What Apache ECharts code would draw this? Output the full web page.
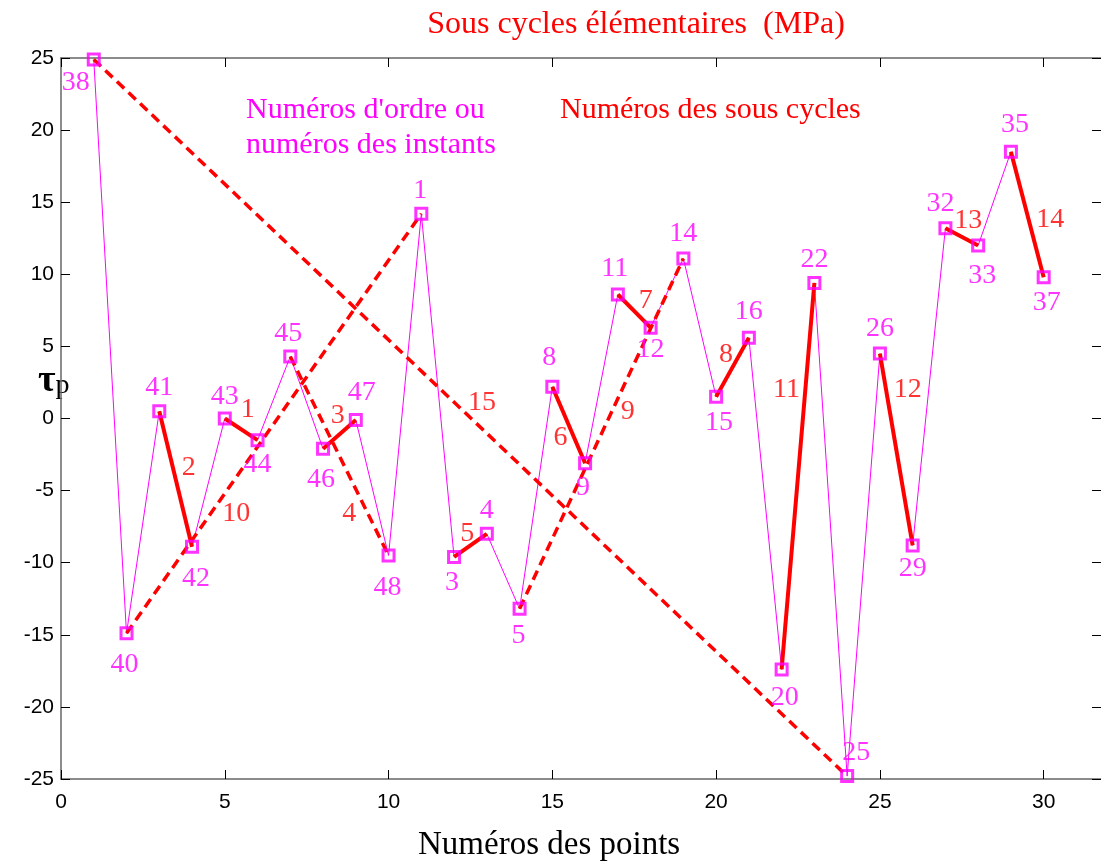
<!DOCTYPE html>
<html><head><meta charset="utf-8">
<script src="https://cdn.jsdelivr.net/npm/echarts@6/dist/echarts.min.js"></script>
<style>html,body{margin:0;padding:0;background:#fff}#c{width:1101px;height:864px}</style>
</head><body><div id="c"></div>
<script>
// ---- data ----
const pointNo = [1,2,3,4,5,6,7,8,9,10,11,12,13,14,15,16,17,18,19,20,21,22,23,24,25,26,27,28,29,30];
const tau = [24.9,-14.9,0.5,-8.9,0.0,-1.5,4.3,-2.1,-0.1,-9.5,14.2,-9.6,-8.0,-13.2,2.2,-3.1,8.6,6.3,11.1,1.5,5.6,-17.4,9.4,-24.8,4.5,-8.8,13.2,12.0,18.5,9.8];
const orderNo = [38,40,41,42,43,44,45,46,47,48,1,3,4,5,8,9,11,12,14,15,16,20,22,25,26,29,32,33,35,37];
const cycleNo = [1,2,3,4,5,6,7,8,9,10,11,12,13,14,15];
const cycleFrom = [5,3,8,7,12,15,17,20,14,2,22,25,27,29,1];
const cycleTo = [6,4,9,10,13,16,18,21,19,11,23,26,28,30,24];
const cycleDashed = [false,false,false,true,false,false,false,false,true,true,false,false,false,false,true];
const cycleLabelX = [5.7,3.9,8.45,8.8,12.4,15.25,17.85,20.3,17.3,5.35,22.15,25.85,27.7,30.2,12.85];
const cycleLabelY = [0.6,-3.4,0.2,-6.6,-8.0,-1.3,8.2,4.4,0.5,-6.6,2.0,2.0,13.7,13.8,1.1];
const xTicks = [0,5,10,15,20,25,30];
const yTicks = [-25,-20,-15,-10,-5,0,5,10,15,20,25];

// ---- layout (label offsets in px) ----
const orderLabelOffset = [[-18,23],[-2,31],[0,-24],[4,32],[0,-22],[0,25],[-2,-23],[-2,31],[6,-27],[-1,32],
  [-1,-23],[-2,26],[0,-23],[-1,27],[-3,-29],[-2,24],[-3,-26],[0,22],[0,-25],[3,26],
  [0,-26],[3,28],[0,-23],[9,-23],[0,-25],[0,23],[-5,-25],[4,30],[4,-27],[3,25]];

const MAG = '#ff00ff', RED = '#ff0000';
const serif = '"Liberation Serif","Times New Roman",serif';
const sans = '"Liberation Sans",Arial,sans-serif';

const series = [];
series.push({
  type:'line', data: pointNo.map((x,i)=>[x,tau[i]]), showSymbol:false, symbol:'none',
  lineStyle:{color:MAG, width:1}, z:2, animation:false
});
cycleNo.forEach((c,k)=>{
  const a = cycleFrom[k]-1, b = cycleTo[k]-1;
  series.push({
    type:'line', data:[[pointNo[a],tau[a]],[pointNo[b],tau[b]]], symbol:'none',
    lineStyle:{color:RED, width: cycleDashed[k]?3.5:4, type: cycleDashed[k]?[10,6]:'solid', cap:'butt'},
    z:3, animation:false
  });
});
series.push({
  type:'scatter', symbol:'rect', symbolSize:11, z:5, animation:false,
  itemStyle:{color:'rgba(255,255,255,0)', borderColor:MAG, borderWidth:3},
  data: pointNo.map((x,i)=>({value:[x,tau[i]], label:{show:true, position:'inside', offset:orderLabelOffset[i], formatter:String(orderNo[i])}})),
  label:{color:MAG, fontFamily:serif, fontSize:28}
});
series.push({
  type:'scatter', symbolSize:0, z:6, animation:false, silent:true,
  data: cycleNo.map((c,k)=>({value:[cycleLabelX[k],cycleLabelY[k]], label:{formatter:String(c)}})),
  label:{show:true, position:'inside', color:RED, fontFamily:serif, fontSize:28}
});

const axisLineStyle = {color:'#666', width:1.5};
const tick = {show:true, inside:true, length:9, lineStyle:{color:'#000', width:1}};
const chart = echarts.init(document.getElementById('c'));
chart.setOption({
  animation:false,
  title:{text:'Sous cycles élémentaires  (MPa)', left:631, top:4, textAlign:'center',
    textStyle:{color:RED, fontFamily:serif, fontSize:32, fontWeight:'normal'}},
  grid:{left:61, top:58, bottom:85, right:0},
  xAxis:[
    {type:'value', min:0, max:31.75, interval:5, position:'bottom',
      axisLine:{onZero:false, lineStyle:axisLineStyle}, axisTick:tick,
      axisLabel:{color:'#000', fontFamily:sans, fontSize:21, margin:13, showMaxLabel:false,
        formatter:v=>xTicks.includes(v)?String(v):''},
      splitLine:{show:false}},
    {type:'value', min:0, max:31.75, interval:5, position:'top',
      axisLine:{onZero:false, lineStyle:axisLineStyle}, axisTick:tick,
      axisLabel:{show:false}, splitLine:{show:false}}
  ],
  yAxis:[
    {type:'value', min:-25, max:25, interval:5, position:'left',
      axisLine:{show:true, onZero:false, lineStyle:axisLineStyle}, axisTick:tick,
      axisLabel:{color:'#000', fontFamily:sans, fontSize:21, margin:7,
        formatter:v=>yTicks.includes(v)?String(v):''},
      splitLine:{show:false}},
    {type:'value', min:-25, max:25, interval:5, position:'right',
      axisLine:{show:false, onZero:false}, axisTick:tick,
      axisLabel:{show:false}, splitLine:{show:false}}
  ],
  graphic:[
    {type:'text', left:246, top:93, style:{text:"Numéros d'ordre ou\nnuméros des instants", fill:MAG, font:'30px '+serif, lineHeight:35}},
    {type:'text', left:560, top:95, style:{text:'Numéros des sous cycles', fill:RED, font:'30px '+serif}},
    {type:'text', left:418, top:829, style:{text:'Numéros des points', fill:'#000', font:'33px '+serif}},
    {type:'text', left:38, top:362, style:{rich:{t:{fontFamily:serif, fontSize:38, fontWeight:'bold', fill:'#000'}, p:{fontFamily:serif, fontSize:28, fill:'#000', padding:[10,0,0,0]}}, text:'{t|τ}{p|p}'}}
  ],
  series
});
</script></body></html>
